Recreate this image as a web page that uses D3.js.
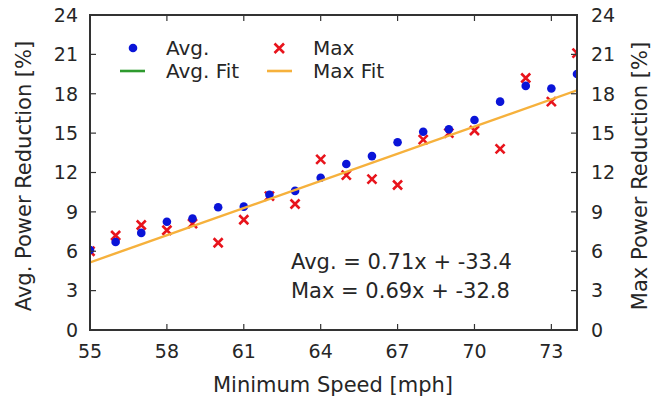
<!DOCTYPE html>
<html><head><meta charset="utf-8">
<script src="https://cdn.jsdelivr.net/npm/d3@7"></script>
<style>body{margin:0;background:#fff}svg{display:block}text{font-family:"DejaVu Sans",sans-serif;fill:#262626}</style>
</head><body><svg id="c" width="672" height="400"></svg>
<script>
const speeds = [55,56,57,58,59,60,61,62,63,64,65,66,67,68,69,70,71,72,73,74];
const avgValues = [6.1,6.7,7.4,8.25,8.5,9.35,9.4,10.3,10.6,11.6,12.65,13.25,14.3,15.1,15.3,16.0,17.4,18.6,18.4,19.5];
const maxValues = [6.0,7.2,8.0,7.6,8.1,6.65,8.4,10.2,9.6,13.0,11.8,11.5,11.05,14.5,15.0,15.2,13.8,19.2,17.4,21.1];
const avgFit = {slope:0.71, intercept:-33.4};
const maxFit = {slope:0.69, intercept:-32.8};
const xTicks = [55,58,61,64,67,70,73];
const yTicks = [0,3,6,9,12,15,18,21,24];
const legendLabels = ["Avg.","Max","Avg. Fit","Max Fit"];
const fitTexts = ["Avg. = 0.71x + -33.4","Max = 0.69x + -32.8"];

const L=90,R=577,T=15,B=330;
const svg=d3.select("#c");
const x=d3.scaleLinear().domain([55,74]).range([L,R]);
const y=d3.scaleLinear().domain([0,24]).range([B,T]);
const y2=d3.scaleLinear().domain([0,24]).range([B,T]);
const FT=19, FL=21, FG=20, FA=21;

svg.append("clipPath").attr("id","clip").append("rect").attr("x",L).attr("y",T).attr("width",R-L).attr("height",B-T);
const g=svg.append("g").attr("clip-path","url(#clip)");

// max markers
g.selectAll("path.mx").data(speeds.map((s,i)=>[s,maxValues[i]])).join("path")
 .attr("d",d=>{const cx=x(d[0]),cy=y2(d[1]),r=4.5;return `M${cx-r},${cy-r}L${cx+r},${cy+r}M${cx-r},${cy+r}L${cx+r},${cy-r}`;})
 .attr("stroke","#e8141c").attr("stroke-width",2.6).attr("fill","none");
// avg dots
g.selectAll("circle").data(speeds.map((s,i)=>[s,avgValues[i]])).join("circle")
 .attr("cx",d=>x(d[0])).attr("cy",d=>y(d[1])).attr("r",4.3).attr("fill","#0a14d8");
// max fit line (the avg fit line is not visible in the reference)
const fitLine=d3.line().x(d=>x(d)).y(d=>y2(maxFit.slope*d+maxFit.intercept));
g.append("path").attr("d",fitLine([55,74])).attr("stroke","#f6b13c").attr("stroke-width",2.4).attr("fill","none");

// frame
svg.append("rect").attr("x",L).attr("y",T).attr("width",R-L).attr("height",B-T).attr("fill","none").attr("stroke","#333").attr("stroke-width",2);

// axes
const tk=6;
const ax=svg.append("g");
xTicks.forEach(v=>{
  ax.append("line").attr("x1",x(v)).attr("x2",x(v)).attr("y1",B).attr("y2",B-tk).attr("stroke","#333").attr("stroke-width",1.2);
  ax.append("line").attr("x1",x(v)).attr("x2",x(v)).attr("y1",T).attr("y2",T+tk).attr("stroke","#333").attr("stroke-width",1.2);
  ax.append("text").attr("x",x(v)).attr("y",351.5).attr("dy","0.36em").attr("text-anchor","middle").attr("font-size",FT).text(v);
});
yTicks.forEach(v=>{
  ax.append("line").attr("x1",L).attr("x2",L+tk).attr("y1",y(v)).attr("y2",y(v)).attr("stroke","#333").attr("stroke-width",1.2);
  ax.append("line").attr("x1",R).attr("x2",R-tk).attr("y1",y2(v)).attr("y2",y2(v)).attr("stroke","#333").attr("stroke-width",1.2);
  ax.append("text").attr("x",L-12).attr("y",y(v)).attr("dy","0.36em").attr("text-anchor","end").attr("font-size",FT).text(v);
  ax.append("text").attr("x",R+14).attr("y",y2(v)).attr("dy","0.36em").attr("text-anchor","start").attr("font-size",FT).text(v);
});
svg.append("text").attr("x",333).attr("y",392).attr("text-anchor","middle").attr("font-size",FL).text("Minimum Speed [mph]");
svg.append("text").attr("transform",`translate(31,176) rotate(-90)`).attr("text-anchor","middle").attr("font-size",FL).text("Avg. Power Reduction [%]");
svg.append("text").attr("transform",`translate(647,176) rotate(-90)`).attr("text-anchor","middle").attr("font-size",FL).text("Max Power Reduction [%]");

// legend
const lg=svg.append("g");
lg.append("circle").attr("cx",133).attr("cy",48).attr("r",4.3).attr("fill","#0a14d8");
lg.append("path").attr("d","M274.5,43.5L284,53M274.5,53L284,43.5").attr("stroke","#e8141c").attr("stroke-width",2.6);
lg.append("line").attr("x1",120).attr("x2",145).attr("y1",71).attr("y2",71).attr("stroke","#2e9a2e").attr("stroke-width",2.6);
lg.append("line").attr("x1",267).attr("x2",292).attr("y1",71).attr("y2",71).attr("stroke","#f6b13c").attr("stroke-width",2.6);
[[166,48],[313,48],[166,71],[313,71]].forEach((p,i)=>{
  lg.append("text").attr("x",p[0]).attr("y",p[1]).attr("dy","0.36em").attr("font-size",FG).text(legendLabels[i]);
});
fitTexts.forEach((t,i)=>{
  svg.append("text").attr("x",291).attr("y",261+i*29).attr("dy","0.36em").attr("font-size",FA).text(t);
});
</script></body></html>
